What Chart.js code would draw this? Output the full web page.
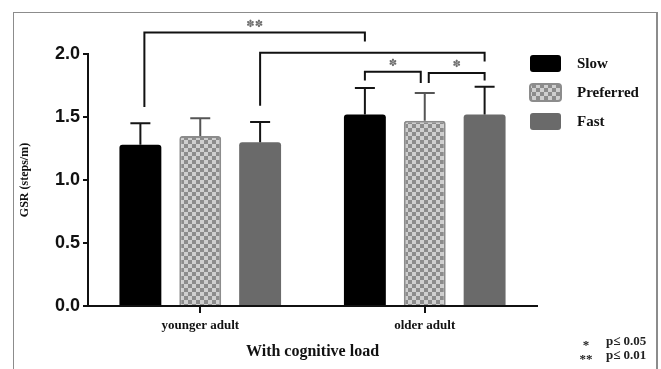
<!DOCTYPE html>
<html>
<head>
<meta charset="utf-8">
<script src="https://cdn.jsdelivr.net/npm/chart.js@4.4.1/dist/chart.umd.min.js"></script>
<style>
  html, body { margin: 0; padding: 0; background: #fff; }
  #wrap { position: relative; width: 661px; height: 369px; overflow: hidden; }
  #frame { position: absolute; left: 13px; top: 12px; width: 642px; height: 400px;
           border: 1px solid #8c8c8c; border-right: 2px solid #8c8c8c; }
  canvas { position: absolute; left: 0; top: 0; }
</style>
</head>
<body>
<div id="wrap">
  <div id="frame"></div>
  <canvas id="chart" width="661" height="369"></canvas>
</div>
<script>
// data
const categories = ['younger adult', 'older adult'];
const speeds = ['Slow', 'Preferred', 'Fast'];
const slowMean = [1.28, 1.52];
const preferredMean = [1.35, 1.47];
const fastMean = [1.30, 1.52];
const slowSD = [0.17, 0.21];
const preferredSD = [0.14, 0.22];
const fastSD = [0.16, 0.22];
const yTicks = [0, 0.5, 1.0, 1.5, 2.0];

// significance brackets: [dataset, category] ends, heights in y units
const brackets = [
  { from: [0, 0], to: [0, 1], top: 2.17, fromEnd: 1.58, toEnd: 2.10, label: '✽✽' },
  { from: [2, 0], to: [2, 1], top: 2.01, fromEnd: 1.59, toEnd: 1.94, label: '' },
  { from: [0, 1], to: [1, 1], top: 1.86, fromEnd: 1.79, toEnd: 1.77, label: '✽' },
  { from: [1, 1], to: [2, 1], top: 1.85, fromEnd: 1.77, toEnd: 1.79, label: '✽' }
];

const SERIF = '"Liberation Serif", "Times New Roman", serif';
const SANS = '"Liberation Sans", Arial, sans-serif';

// checkerboard fill for the Preferred bars
function makeChecker() {
  const c = document.createElement('canvas');
  c.width = 8; c.height = 8;
  const g = c.getContext('2d');
  g.fillStyle = '#cfcfcf';
  g.fillRect(0, 0, 8, 8);
  g.fillStyle = '#8c8c8c';
  g.fillRect(0, 0, 4, 4);
  g.fillRect(4, 4, 4, 4);
  return g.createPattern(c, 'repeat');
}
const checker = makeChecker();

const sds = [slowSD, preferredSD, fastSD];
const errColors = ['#151515', '#555555', '#151515'];

const errorBars = {
  id: 'errorBars',
  afterDatasetsDraw(chart) {
    const ctx = chart.ctx;
    const y = chart.scales.y;
    ctx.save();
    ctx.lineWidth = 2;
    chart.data.datasets.forEach((ds, i) => {
      const meta = chart.getDatasetMeta(i);
      ctx.strokeStyle = errColors[i];
      meta.data.forEach((bar, j) => {
        const top = y.getPixelForValue(ds.data[j] + sds[i][j]);
        ctx.beginPath();
        ctx.moveTo(bar.x, bar.y);
        ctx.lineTo(bar.x, top);
        ctx.moveTo(bar.x - 10, top);
        ctx.lineTo(bar.x + 10, top);
        ctx.stroke();
      });
    });
    ctx.restore();
  }
};

const sigBrackets = {
  id: 'sigBrackets',
  afterDraw(chart) {
    const ctx = chart.ctx;
    const y = chart.scales.y;
    const xOf = (p) => chart.getDatasetMeta(p[0]).data[p[1]].x;
    ctx.save();
    ctx.strokeStyle = '#111';
    ctx.lineWidth = 2;
    brackets.forEach((b, k) => {
      let x1 = xOf(b.from), x2 = xOf(b.to);
      // nudges so the legs sit like in the figure
      if (k === 0) x1 += 4;
      if (k === 2) x2 -= 4;
      if (k === 3) x1 += 4;
      const yt = y.getPixelForValue(b.top);
      ctx.beginPath();
      ctx.moveTo(x1, y.getPixelForValue(b.fromEnd));
      ctx.lineTo(x1, yt);
      ctx.lineTo(x2, yt);
      ctx.lineTo(x2, y.getPixelForValue(b.toEnd));
      ctx.stroke();
      if (b.label) {
        ctx.fillStyle = '#6e6e6e';
        ctx.font = '10px "DejaVu Sans", sans-serif';
        ctx.textAlign = 'center';
        ctx.textBaseline = 'middle';
        ctx.fillText(b.label, (x1 + x2) / 2, yt - 8);
      }
    });
    ctx.restore();
  }
};

const sideLegend = {
  id: 'sideLegend',
  afterDraw(chart) {
    const ctx = chart.ctx;
    ctx.save();
    chart.data.datasets.forEach((ds, i) => {
      const cy = 63 + i * 29;
      ctx.beginPath();
      ctx.roundRect(530, cy - 8, 31, 17, 3);
      ctx.fillStyle = ds.backgroundColor;
      ctx.fill();
      if (ds.borderWidth) {
        ctx.lineWidth = ds.borderWidth;
        ctx.strokeStyle = ds.borderColor;
        ctx.stroke();
      }
      ctx.fillStyle = '#111';
      ctx.font = 'bold 15px ' + SERIF;
      ctx.textAlign = 'left';
      ctx.textBaseline = 'middle';
      ctx.fillText(ds.label, 577, cy + 1);
    });
    // footnote
    ctx.font = 'bold 13px ' + SERIF;
    ctx.fillStyle = '#222';
    ctx.textBaseline = 'middle';
    ctx.textAlign = 'center';
    ctx.fillText('*', 586, 346);
    ctx.fillText('**', 586, 360);
    ctx.textAlign = 'left';
    ctx.fillText('p≤ 0.05', 606, 342);
    ctx.fillText('p≤ 0.01', 606, 356);
    ctx.restore();
  }
};

new Chart(document.getElementById('chart'), {
  type: 'bar',
  data: {
    labels: categories,
    datasets: [
      { label: speeds[0], data: slowMean, backgroundColor: '#000000', borderWidth: 0 },
      { label: speeds[1], data: preferredMean, backgroundColor: checker, borderColor: '#8c8c8c', borderWidth: 2 },
      { label: speeds[2], data: fastMean, backgroundColor: '#6a6a6a', borderWidth: 0 }
    ]
  },
  options: {
    responsive: false,
    animation: false,
    layout: { padding: { top: 54, right: 124, bottom: 0, left: 0 } },
    datasets: {
      bar: { categoryPercentage: 0.8, barPercentage: 0.7, borderRadius: 3, borderSkipped: 'start' }
    },
    plugins: {
      legend: { display: false },
      tooltip: { enabled: false }
    },
    scales: {
      x: {
        afterFit(scale) { scale.height = 63; },
        grid: { display: true, drawOnChartArea: false, offset: false, tickLength: 7, lineWidth: 2, color: '#111' },
        border: { display: true, color: '#111', width: 2 },
        ticks: { color: '#111', padding: 5, font: { family: SERIF, size: 13, weight: 'bold' } },
        title: {
          display: true, text: 'With cognitive load', color: '#111',
          font: { family: SERIF, size: 16, weight: 'bold' }, padding: { top: 0, bottom: 8 }
        }
      },
      y: {
        min: 0,
        max: 2,
        afterFit(scale) { scale.width = 88; },
        afterBuildTicks(scale) { scale.ticks = yTicks.map(v => ({ value: v })); },
        grid: { display: true, drawOnChartArea: false, tickLength: 5, lineWidth: 2, color: '#111' },
        border: { display: true, color: '#111', width: 2 },
        ticks: {
          color: '#111', padding: 3,
          font: { family: SANS, size: 18, weight: 'bold' },
          callback: v => Number(v).toFixed(1)
        },
        title: {
          display: true, text: 'GSR (steps/m)', color: '#111',
          font: { family: SERIF, size: 12, weight: 'bold' }, padding: { top: 18, bottom: 0 }
        }
      }
    }
  },
  plugins: [errorBars, sigBrackets, sideLegend]
});
</script>
</body>
</html>
